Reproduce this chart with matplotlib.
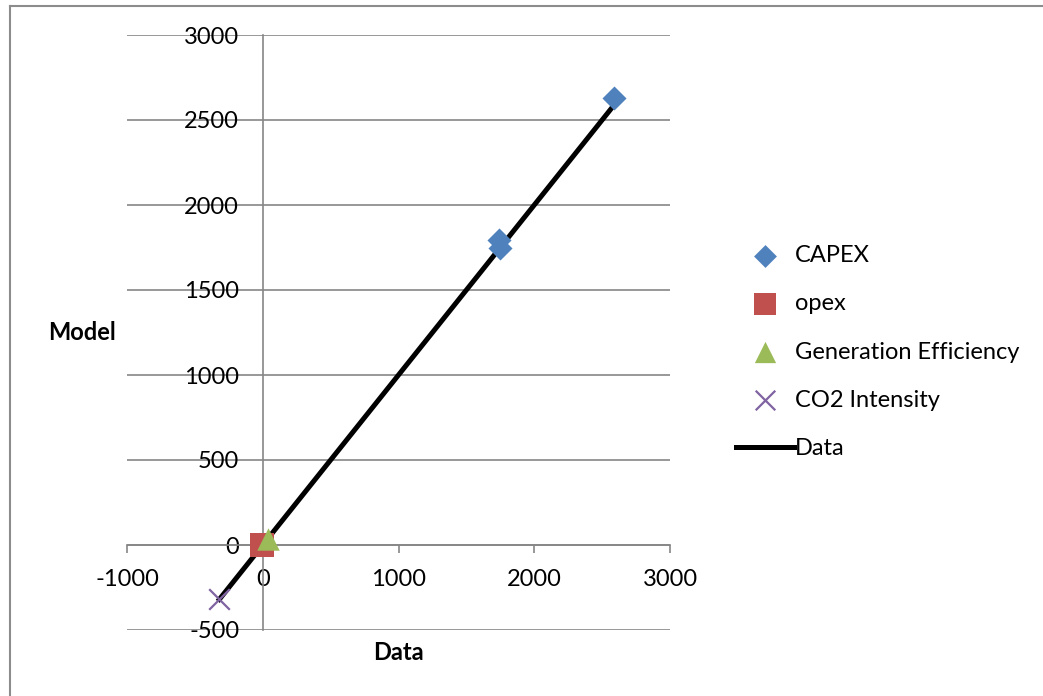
import matplotlib.pyplot as plt
from matplotlib.lines import Line2D

plt.rcParams['font.family'] = ['Lato', 'DejaVu Sans']
plt.rcParams['axes.unicode_minus'] = False

# model vs data values
capex_x = [2585, 1740, 1745]
capex_y = [2630, 1795, 1750]
opex_x = [-5]
opex_y = [0]
geneff_x = [35]
geneff_y = [38]
co2_x = [-320]
co2_y = [-320]
line_x = [-320, 2585]
line_y = [-320, 2585]

xticks = [-1000, 0, 1000, 2000, 3000]
yticks = [-500, 0, 500, 1000, 1500, 2000, 2500, 3000]

W, H = 1043, 696
fig = plt.figure(figsize=(W / 100, H / 100), dpi=100)
ax = fig.add_axes([127 / W, (H - 630) / H, (670 - 127) / W, (630 - 35) / H])

# outer chart frame (left & top visible)
fig.add_artist(Line2D([9.5 / W, 9.5 / W], [0, 1 - 5.5 / H], transform=fig.transFigure,
                      color='#8c8c8c', lw=1.5))
fig.add_artist(Line2D([9.5 / W, 1], [1 - 5.5 / H, 1 - 5.5 / H], transform=fig.transFigure,
                      color='#8c8c8c', lw=1.5))

ax.set_xlim(-1000, 3000)
ax.set_ylim(-500, 3000)
ax.set_xticks(xticks)
ax.set_yticks(yticks)
ax.grid(axis='y', color='#868686', lw=1.2)
ax.set_axisbelow(True)

for s in ['top', 'right']:
    ax.spines[s].set_visible(False)
ax.spines['left'].set_position(('data', 0))
ax.spines['bottom'].set_position(('data', 0))
for s in ['left', 'bottom']:
    ax.spines[s].set_color('#868686')
    ax.spines[s].set_linewidth(1.2)

ax.tick_params(axis='x', direction='out', length=6, width=1.2, color='#868686',
               pad=11, labelsize=17)
ax.tick_params(axis='y', direction='out', length=0, pad=17, labelsize=17)

ax.plot(line_x, line_y, color='black', lw=3.6, label='Data', zorder=3)
ax.scatter(capex_x, capex_y, marker='D', s=150, color='#4F81BD', label='CAPEX', zorder=4,
           linewidths=0)
ax.scatter(opex_x, opex_y, marker='s', s=300, color='#C0504D', label='opex', zorder=4,
           linewidths=0)
ax.scatter(geneff_x, geneff_y, marker='^', s=260, color='#9BBB59',
           label='Generation Efficiency', zorder=5, linewidths=0)
ax.scatter(co2_x, co2_y, marker='x', s=220, color='#8064A2', label='CO2 Intensity',
           zorder=5, linewidths=1.6)

fig.text(82 / W, 1 - 333 / H, 'Model', fontsize=17, fontweight='bold',
         ha='center', va='center')
fig.text(398 / W, 1 - 652 / H, 'Data', fontsize=17, fontweight='bold',
         ha='center', va='center')

handles, labels = ax.get_legend_handles_labels()
order = [1, 2, 3, 4, 0]
leg = fig.legend([handles[i] for i in order], [labels[i] for i in order],
                 loc='center left', bbox_to_anchor=(715 / W, 1 - 352 / H),
                 frameon=False, fontsize=17, handlelength=2.45, handletextpad=0.05,
                 labelspacing=1.15, scatterpoints=1, markerscale=0.95)

fig.savefig('out.png', dpi=100)
